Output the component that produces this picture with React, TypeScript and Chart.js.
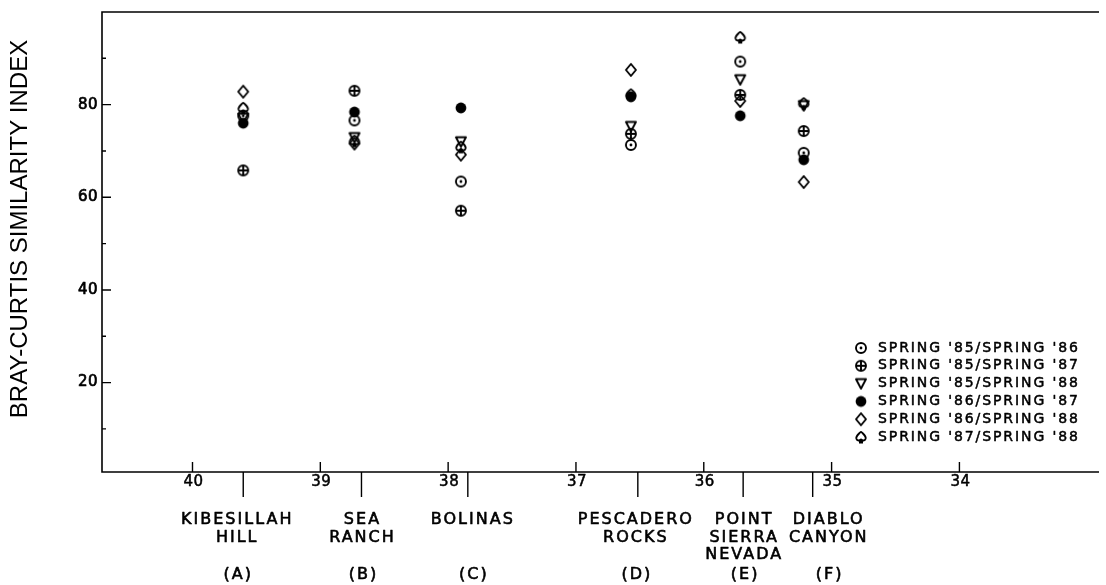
import React, { useEffect, useRef } from 'react';
import { Chart, registerables } from 'chart.js';

Chart.register(...registerables);

// ---------- data ----------
const siteNames: string[][] = [
  ['KIBESILLAH', 'HILL'],
  ['SEA', 'RANCH'],
  ['BOLINAS'],
  ['PESCADERO', 'ROCKS'],
  ['POINT', 'SIERRA', 'NEVADA'],
  ['DIABLO', 'CANYON'],
];
const siteCodes = ['(A)', '(B)', '(C)', '(D)', '(E)', '(F)'];
// latitude (deg N) of each site's axis marker
const siteLat = [39.603, 38.678, 37.846, 36.516, 35.692, 35.148];
// latitude at which each site's points are plotted
const pointLat = [39.603, 38.733, 37.9, 36.57, 35.715, 35.218];
const latTicks = [40, 39, 38, 37, 36, 35, 34];
const yTickLabels = [20, 40, 60, 80];

const seriesLabels = [
  "SPRING '85/SPRING '86",
  "SPRING '85/SPRING '87",
  "SPRING '85/SPRING '88",
  "SPRING '86/SPRING '87",
  "SPRING '86/SPRING '88",
  "SPRING '87/SPRING '88",
];
const spring85_86 = [77.6, 76.6, 63.4, 71.3, 89.3, 69.6];
const spring85_87 = [65.8, 83.0, 57.1, 73.7, 82.1, 74.3];
const spring85_88 = [77.1, 72.9, 72.0, 75.3, 85.4, 79.8];
const spring86_87 = [76.0, 78.4, 79.3, 81.7, 77.6, 68.1];
const spring86_88 = [82.8, 71.6, 69.2, 87.5, 80.8, 63.3];
const spring87_88 = [79.3, 72.2, 70.9, 82.2, 94.6, 80.3];

const seriesValues = [spring85_86, spring85_87, spring85_88, spring86_87, spring86_88, spring87_88];
const markerKinds = ['circleDot', 'circleCross', 'triangle', 'filled', 'diamond', 'spade'];

// ---------- layout constants ----------
const labelShift = [-7, 0, 4, -3, 0, 15];
const FONT = '"DejaVu Sans", sans-serif';

function makeMarker(kind: string): HTMLCanvasElement {
  const c = document.createElement('canvas');
  c.width = 16;
  c.height = 16;
  const ctx = c.getContext('2d')!;
  ctx.translate(8, 8);
  ctx.strokeStyle = '#000';
  ctx.fillStyle = '#000';
  ctx.lineWidth = 1.9;
  ctx.lineJoin = 'round';
  ctx.beginPath();
  switch (kind) {
    case 'circleDot':
      ctx.arc(0, 0, 5, 0, Math.PI * 2);
      ctx.stroke();
      ctx.beginPath();
      ctx.arc(0, 0, 1.4, 0, Math.PI * 2);
      ctx.fill();
      break;
    case 'circleCross':
      ctx.arc(0, 0, 5, 0, Math.PI * 2);
      ctx.moveTo(-5, 0);
      ctx.lineTo(5, 0);
      ctx.moveTo(0, -5);
      ctx.lineTo(0, 5);
      ctx.stroke();
      break;
    case 'triangle':
      ctx.moveTo(-5, -4.5);
      ctx.lineTo(5, -4.5);
      ctx.lineTo(0, 5);
      ctx.closePath();
      ctx.stroke();
      break;
    case 'filled':
      ctx.arc(0, 0, 5.4, 0, Math.PI * 2);
      ctx.fill();
      break;
    case 'diamond':
      ctx.moveTo(0, -6);
      ctx.lineTo(5, 0);
      ctx.lineTo(0, 6);
      ctx.lineTo(-5, 0);
      ctx.closePath();
      ctx.stroke();
      break;
    case 'spade':
      ctx.moveTo(0, -5.5);
      ctx.bezierCurveTo(2, -3.2, 5.5, -1.2, 4.6, 1.8);
      ctx.bezierCurveTo(3.9, 3.9, 1.5, 3.9, 0, 2.4);
      ctx.bezierCurveTo(-1.5, 3.9, -3.9, 3.9, -4.6, 1.8);
      ctx.bezierCurveTo(-5.5, -1.2, -2, -3.2, 0, -5.5);
      ctx.moveTo(0, 2.4);
      ctx.lineTo(0, 5.5);
      ctx.moveTo(-2, 5.5);
      ctx.lineTo(2, 5.5);
      ctx.stroke();
      break;
  }
  return c;
}

function heavyText(ctx: CanvasRenderingContext2D, t: string, x: number, y: number, w: number) {
  ctx.fillText(t, x, y);
  ctx.lineWidth = w;
  ctx.strokeText(t, x, y);
}

export default function App() {
  const ref = useRef<HTMLCanvasElement | null>(null);

  useEffect(() => {
    const canvas = ref.current;
    if (!canvas) return;
    const markers = markerKinds.map(makeMarker);

    const decor = {
      id: 'decor',
      afterDraw(chart: any) {
        const { ctx, chartArea } = chart;
        const xs = chart.scales.x;
        const ys = chart.scales.y;
        const { left, right, top, bottom } = chartArea;
        ctx.save();
        ctx.strokeStyle = '#000';
        ctx.fillStyle = '#000';
        ctx.lineWidth = 1.6;
        ctx.lineCap = 'butt';

        // frame: top, left, bottom
        ctx.beginPath();
        ctx.moveTo(right, top);
        ctx.lineTo(left, top);
        ctx.lineTo(left, bottom);
        ctx.lineTo(right, bottom);
        ctx.stroke();

        // y inner ticks
        ctx.lineWidth = 1.4;
        ctx.beginPath();
        for (let v = 10; v <= 90; v += 10) {
          const y = ys.getPixelForValue(v);
          const len = yTickLabels.includes(v) ? 9 : 4;
          ctx.moveTo(left, y);
          ctx.lineTo(left + len, y);
        }
        // x ticks above axis at whole degrees
        latTicks.forEach((lat) => {
          const x = xs.getPixelForValue(lat);
          ctx.moveTo(x, bottom);
          ctx.lineTo(x, bottom - 10);
        });
        // site markers below axis
        siteLat.forEach((lat) => {
          const x = xs.getPixelForValue(lat);
          ctx.moveTo(x, bottom);
          ctx.lineTo(x, bottom + 25);
        });
        ctx.stroke();

        // site labels
        ctx.font = `16px ${FONT}`;
        (ctx as any).letterSpacing = '2px';
        ctx.textAlign = 'center';
        ctx.textBaseline = 'middle';
        ctx.lineJoin = 'round';
        siteNames.forEach((lines, i) => {
          const x = xs.getPixelForValue(siteLat[i]) + labelShift[i];
          lines.forEach((t, k) => {
            heavyText(ctx, t, x + 1, 520 + k * 17.5, 0.6);
          });
          heavyText(ctx, siteCodes[i], x + 2, 575, 0.6);
        });

        // legend
        ctx.font = `14px ${FONT}`;
        (ctx as any).letterSpacing = '1.9px';
        ctx.textAlign = 'left';
        seriesLabels.forEach((t, i) => {
          const y = 348 + i * 17.8;
          ctx.drawImage(markers[i], 861 - 8, y - 8);
          heavyText(ctx, t, 878, y, 0.5);
        });

        // y tick labels (drawn on the y scale's tick positions)
        (ctx as any).letterSpacing = '0.5px';
        ctx.font = `15px ${FONT}`;
        ctx.textAlign = 'right';
        yTickLabels.forEach((v) => {
          heavyText(ctx, String(v), left - 4, ys.getPixelForValue(v), 0.7);
        });

        // x tick labels
        ctx.font = `15px ${FONT}`;
        ctx.textAlign = 'center';
        ctx.textBaseline = 'top';
        latTicks.forEach((lat) => {
          heavyText(ctx, String(lat), xs.getPixelForValue(lat) + 1, bottom + 3, 0.5);
        });

        // y title
        (ctx as any).letterSpacing = '0px';
        ctx.translate(20, 229);
        ctx.rotate(-Math.PI / 2);
        ctx.font = '24px "Liberation Sans", Arial, sans-serif';
        ctx.textAlign = 'center';
        ctx.textBaseline = 'middle';
        ctx.fillText('BRAY-CURTIS SIMILARITY INDEX', 0, 0);
        ctx.restore();
      },
    };

    const chart = new Chart(canvas, {
      type: 'scatter',
      data: {
        datasets: seriesValues.map((vals, i) => ({
          label: seriesLabels[i],
          data: vals.map((v, j) => ({ x: pointLat[j], y: v })),
          pointStyle: markers[i] as any,
          pointRadius: 6,
          showLine: false,
        })),
      },
      options: {
        responsive: false,
        animation: false,
        layout: { padding: { left: 0, top: 12, right: 1, bottom: 0 } },
        plugins: { legend: { display: false }, tooltip: { enabled: false } },
        scales: {
          x: {
            type: 'linear',
            reverse: true,
            min: 32.908,
            max: 40.708,
            afterFit: (s: any) => {
              s.height = 113;
            },
            grid: { display: false, drawTicks: false },
            border: { display: false },
            ticks: { display: false, stepSize: 1 },
          },
          y: {
            type: 'linear',
            min: 0.7,
            max: 100,
            afterFit: (s: any) => {
              s.width = 102;
            },
            grid: { display: false, drawTicks: false },
            border: { display: false },
            ticks: { display: false, stepSize: 10 },
          },
        },
      },
      plugins: [decor],
    });
    return () => chart.destroy();
  }, []);

  return (
    <div style={{ position: 'absolute', left: 0, top: 0, width: 1106, height: 585, background: '#fff' }}>
      <canvas ref={ref} width={1106} height={585} style={{ display: 'block' }} />
    </div>
  );
}
